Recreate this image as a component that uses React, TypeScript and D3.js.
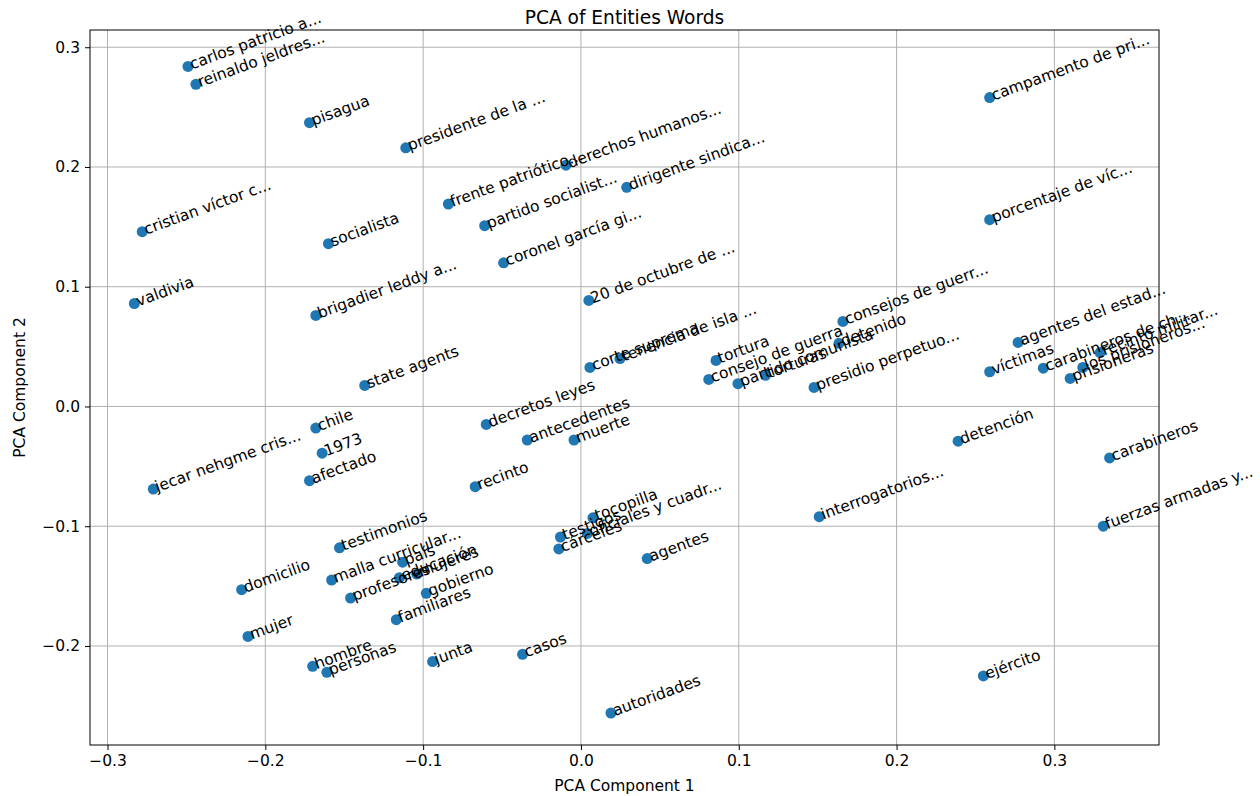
import React, { useEffect, useRef } from 'react';
import * as d3 from 'd3';

// word labels with their PCA coordinates
const words = [
  'carlos patricio a...', 'reinaldo jeldres...', 'pisagua', 'presidente de la ...', 'derechos humanos...',
  'dirigente sindica...', 'frente patriótico...', 'partido socialist...', 'coronel garcía gi...', 'cristian víctor c...',
  'socialista', 'valdivia', 'brigadier leddy a...', '20 de octubre de ...', 'campamento de pri...',
  'porcentaje de víc...', 'state agents', 'chile', '1973', 'afectado',
  'jecar nehgme cris...', 'decretos leyes', 'corte suprema', 'tenencia de isla ...', 'antecedentes',
  'muerte', 'recinto', 'tortura', 'consejo de guerra', 'partido comunista',
  'torturas', 'detenido', 'consejos de guerr...', 'presidio perpetuo...', 'agentes del estad...',
  'víctimas', 'carabineros de ch...', 'prisioneras', 'los prisioneros...', 'recinto militar...',
  'detención', 'carabineros', 'fuerzas armadas y...', 'interrogatorios...', 'ejército',
  'autoridades', 'agentes', 'casos', 'junta', 'hombre',
  'personas', 'mujer', 'domicilio', 'testimonios', 'malla curricular...',
  'profesores', 'país', 'educación', 'mujeres', 'gobierno',
  'familiares', 'testigos', 'cárceles', 'oficiales y cuadr...', 'tocopilla',
];

const pc1 = [
  -0.249, -0.244, -0.172, -0.111, -0.0095,
  0.029, -0.084, -0.061, -0.049, -0.278,
  -0.160, -0.283, -0.168, 0.005, 0.259,
  0.259, -0.137, -0.168, -0.164, -0.172,
  -0.271, -0.060, 0.0057, 0.0247, -0.034,
  -0.0044, -0.067, 0.0856, 0.081, 0.0995,
  0.117, 0.1635, 0.166, 0.1477, 0.277,
  0.259, 0.293, 0.310, 0.318, 0.329,
  0.239, 0.335, 0.331, 0.151, 0.255,
  0.019, 0.042, -0.037, -0.094, -0.170,
  -0.161, -0.211, -0.215, -0.153, -0.158,
  -0.146, -0.113, -0.115, -0.104, -0.098,
  -0.117, -0.013, -0.014, 0.004, 0.0076,
];

const pc2 = [
  0.284, 0.269, 0.237, 0.216, 0.2015,
  0.183, 0.169, 0.151, 0.120, 0.146,
  0.136, 0.086, 0.076, 0.0886, 0.258,
  0.156, 0.0176, -0.018, -0.039, -0.062,
  -0.069, -0.015, 0.0326, 0.040, -0.028,
  -0.028, -0.067, 0.0385, 0.0226, 0.019,
  0.026, 0.0527, 0.071, 0.0159, 0.0535,
  0.029, 0.032, 0.0234, 0.0326, 0.045,
  -0.029, -0.043, -0.100, -0.092, -0.225,
  -0.256, -0.127, -0.207, -0.213, -0.217,
  -0.222, -0.192, -0.153, -0.118, -0.145,
  -0.160, -0.130, -0.143, -0.140, -0.156,
  -0.178, -0.109, -0.119, -0.106, -0.093,
];

const xTicks = [-0.3, -0.2, -0.1, 0.0, 0.1, 0.2, 0.3];
const yTicks = [-0.2, -0.1, 0.0, 0.1, 0.2, 0.3];

const App: React.FC = () => {
  const svgRef = useRef<SVGSVGElement>(null);

  useEffect(() => {
    if (!svgRef.current) return;
    const width = 1260;
    const height = 796;
    const margin = { top: 30, right: 101, bottom: 51, left: 90 };
    const w = width - margin.left - margin.right;
    const h = height - margin.top - margin.bottom;
    const font = 'DejaVu Sans, sans-serif';
    const fs = 15.5;

    const svg = d3.select(svgRef.current);
    svg.selectAll('*').remove();
    svg.attr('width', width).attr('height', height);

    svg.append('rect').attr('width', width).attr('height', height).attr('fill', 'white');

    const g = svg.append('g').attr('transform', `translate(${margin.left},${margin.top})`);

    const x = d3.scaleLinear().domain([-0.3111, 0.3663]).range([0, w]);
    const y = d3.scaleLinear().domain([-0.2827, 0.3144]).range([h, 0]);

    // grid
    g.selectAll('line.gx')
      .data(xTicks)
      .enter()
      .append('line')
      .attr('x1', d => x(d)).attr('x2', d => x(d))
      .attr('y1', 0).attr('y2', h)
      .attr('stroke', '#b0b0b0').attr('stroke-width', 1);
    g.selectAll('line.gy')
      .data(yTicks)
      .enter()
      .append('line')
      .attr('y1', d => y(d)).attr('y2', d => y(d))
      .attr('x1', 0).attr('x2', w)
      .attr('stroke', '#b0b0b0').attr('stroke-width', 1);

    const fmt = (d: number) => d3.format('.1f')(d).replace('-', '\u2212');

    const xAxis = g.append('g')
      .attr('transform', `translate(0,${h})`)
      .call(d3.axisBottom(x).tickValues(xTicks).tickFormat(d => fmt(d as number)).tickSize(5).tickPadding(5));
    const yAxis = g.append('g')
      .call(d3.axisLeft(y).tickValues(yTicks).tickFormat(d => fmt(d as number)).tickSize(5).tickPadding(5));
    [xAxis, yAxis].forEach(a => {
      a.select('.domain').remove();
      a.selectAll('text').attr('font-family', font).attr('font-size', fs).attr('fill', 'black');
      a.selectAll('line').attr('stroke', 'black').attr('stroke-width', 1);
    });

    // frame
    g.append('rect')
      .attr('width', w).attr('height', h)
      .attr('fill', 'none').attr('stroke', 'black').attr('stroke-width', 1);

    const data = words.map((word, i) => ({ word, a: pc1[i], b: pc2[i] }));

    g.selectAll('circle.pt')
      .data(data)
      .enter()
      .append('circle')
      .attr('cx', d => x(d.a))
      .attr('cy', d => y(d.b))
      .attr('r', 5.5)
      .attr('fill', '#1f77b4');

    // rotated labels, nudged like matplotlib's rotated-bbox alignment
    g.selectAll('text.lbl')
      .data(data)
      .enter()
      .append('text')
      .attr('transform', d => `translate(${x(d.a) + 4},${y(d.b) + 3}) rotate(-20)`)
      .attr('font-family', font)
      .attr('font-size', fs)
      .attr('fill', 'black')
      .text(d => d.word);

    // titles
    svg.append('text')
      .attr('x', margin.left + w / 2).attr('y', 24)
      .attr('text-anchor', 'middle')
      .attr('font-family', font).attr('font-size', 18.6)
      .text('PCA of Entities Words');
    svg.append('text')
      .attr('x', margin.left + w / 2).attr('y', 791)
      .attr('text-anchor', 'middle')
      .attr('font-family', font).attr('font-size', fs)
      .text('PCA Component 1');
    svg.append('text')
      .attr('transform', `translate(25,${margin.top + h / 2}) rotate(-90)`)
      .attr('text-anchor', 'middle')
      .attr('font-family', font).attr('font-size', fs)
      .text('PCA Component 2');
  }, []);

  return <svg ref={svgRef} style={{ position: 'absolute', top: 0, left: 0 }} />;
};

export default App;
